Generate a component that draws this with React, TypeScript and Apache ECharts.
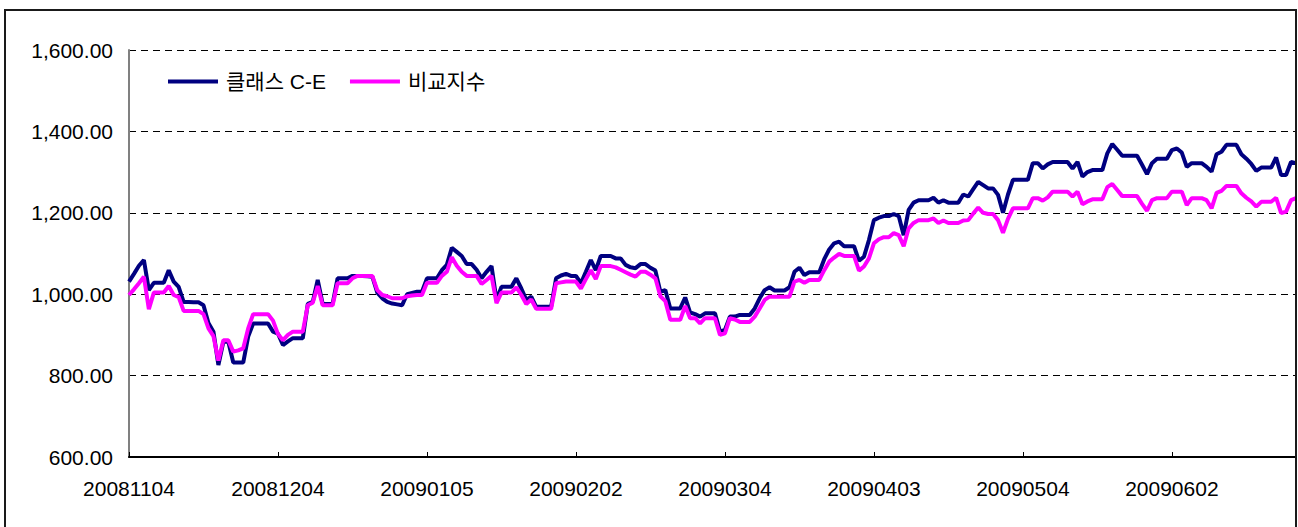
import React, { useEffect, useRef } from "react";
import * as echarts from "echarts";

const tickLabels = [
  "20081104", "20081204", "20090105", "20090202",
  "20090304", "20090403", "20090504", "20090602",
];
const LABEL_STEP = 30;

const classCE = [
  1031, 1050, 1070, 1084, 1010, 1028, 1028, 1028, 1059, 1031,
  1018, 981, 981, 980, 980, 973, 929, 908, 826, 883,
  883, 832, 832, 832, 896, 928, 928, 928, 928, 908,
  903, 875, 884, 892, 892, 892, 976, 981, 1035, 976,
  976, 976, 1039, 1039, 1039, 1045, 1045, 1045, 1044, 1043,
  1004, 990, 981, 977, 975, 973, 1000, 1003, 1006, 1006,
  1039, 1039, 1039, 1059, 1072, 1114, 1104, 1094, 1074, 1074,
  1060, 1039, 1055, 1069, 986, 1018, 1018, 1018, 1039, 1014,
  986, 994, 969, 969, 969, 969, 1039, 1046, 1050, 1045,
  1045, 1027, 1055, 1084, 1059, 1094, 1094, 1094, 1088, 1088,
  1072, 1066, 1064, 1074, 1074, 1065, 1058, 1006, 1010, 965,
  965, 965, 992, 955, 951, 945, 953, 953, 953, 908,
  912, 945, 945, 949, 949, 949, 965, 990, 1010, 1017,
  1009, 1009, 1009, 1017, 1055, 1065, 1047, 1054, 1054, 1054,
  1086, 1110, 1125, 1129, 1118, 1118, 1118, 1082, 1092, 1133,
  1182, 1188, 1192, 1192, 1197, 1192, 1145, 1207, 1225, 1231,
  1231, 1231, 1237, 1225, 1231, 1225, 1225, 1225, 1245, 1240,
  1258, 1276, 1268, 1260, 1260, 1244, 1200, 1245, 1281, 1281,
  1281, 1281, 1322, 1322, 1309, 1319, 1325, 1325, 1325, 1325,
  1309, 1325, 1289, 1300, 1305, 1305, 1305, 1346, 1369, 1355,
  1340, 1340, 1340, 1340, 1318, 1295, 1322, 1333, 1333, 1333,
  1354, 1358, 1348, 1313, 1322, 1322, 1322, 1313, 1301, 1344,
  1350, 1367, 1367, 1367, 1344, 1333, 1320, 1303, 1311, 1311,
  1311, 1336, 1293, 1293, 1325, 1322,
];

const benchmark = [
  998, 1012, 1027, 1043, 963, 1004, 1004, 1004, 1020, 998,
  993, 959, 959, 959, 959, 951, 916, 897, 837, 887,
  887, 859, 862, 867, 916, 951, 951, 951, 951, 935,
  902, 887, 900, 908, 908, 908, 973, 979, 1020, 973,
  973, 973, 1027, 1027, 1027, 1039, 1045, 1045, 1045, 1045,
  1010, 998, 995, 990, 990, 990, 995, 997, 998, 998,
  1028, 1028, 1028, 1045, 1055, 1091, 1070, 1055, 1045, 1045,
  1045, 1025, 1035, 1045, 978, 1004, 1004, 1004, 1017, 998,
  976, 987, 964, 964, 964, 964, 1027, 1029, 1031, 1031,
  1031, 1014, 1037, 1059, 1037, 1069, 1069, 1069, 1066, 1060,
  1054, 1048, 1043, 1055, 1055, 1048, 1039, 995, 983, 937,
  937, 937, 971, 941, 941, 928, 941, 941, 941, 900,
  904, 941, 938, 932, 932, 932, 945, 965, 986, 994,
  994, 994, 994, 994, 1031, 1035, 1028, 1035, 1035, 1035,
  1059, 1080, 1090, 1099, 1094, 1094, 1094, 1058, 1068, 1088,
  1125, 1135, 1140, 1140, 1150, 1145, 1118, 1162, 1175, 1182,
  1182, 1182, 1186, 1175, 1181, 1175, 1175, 1175, 1181, 1182,
  1198, 1213, 1200, 1197, 1197, 1182, 1151, 1185, 1211, 1211,
  1211, 1211, 1236, 1236, 1230, 1238, 1252, 1252, 1252, 1252,
  1240, 1252, 1221, 1228, 1233, 1233, 1233, 1263, 1271, 1256,
  1241, 1241, 1241, 1241, 1222, 1205, 1231, 1236, 1236, 1236,
  1252, 1252, 1252, 1219, 1236, 1236, 1236, 1231, 1211, 1249,
  1254, 1266, 1266, 1266, 1248, 1237, 1228, 1215, 1227, 1227,
  1227, 1237, 1199, 1203, 1231, 1236,
];

const seriesNames = ["클래스 C-E", "비교지수"];
const seriesColors = ["#000080", "#FF00FF"];

const categories = classCE.map((_, i) =>
  i % LABEL_STEP === 0 && tickLabels[i / LABEL_STEP] ? tickLabels[i / LABEL_STEP] : "d" + i
);

const FONT = "'Liberation Sans', Arial, 'Noto Sans CJK KR', sans-serif";

export default function App() {
  const ref = useRef<HTMLDivElement>(null);
  useEffect(() => {
    if (!ref.current) return;
    const chart = echarts.init(ref.current, null, { renderer: "svg" });
    chart.setOption({
      animation: false,
      backgroundColor: "#ffffff",
      textStyle: { fontFamily: FONT },
      graphic: [
        {
          type: "rect",
          shape: { x: 5, y: 10, width: 1291, height: 540 },
          style: { fill: "none", stroke: "#1a1a1a", lineWidth: 2 },
          silent: true,
          z: 100,
        },
      ],
      legend: {
        left: 163,
        top: 66,
        itemWidth: 50,
        itemHeight: 4,
        itemGap: 24,
        icon: "rect",
        textStyle: { fontSize: 21, color: "#000", fontFamily: FONT, padding: [0, 0, 0, 3] },
        data: seriesNames,
      },
      grid: { left: 129, right: 2, top: 50, bottom: 70 },
      xAxis: {
        type: "category",
        data: categories,
        boundaryGap: false,
        axisLine: { show: true, lineStyle: { color: "#000", width: 2 } },
        axisTick: {
          show: true,
          inside: true,
          length: 5,
          interval: LABEL_STEP - 1,
          lineStyle: { color: "#000", width: 1 },
        },
        axisLabel: {
          interval: LABEL_STEP - 1,
          fontSize: 21,
          color: "#000",
          margin: 21,
          fontFamily: FONT,
        },
        splitLine: { show: false },
      },
      yAxis: {
        type: "value",
        min: 600,
        max: 1600,
        interval: 200,
        axisLine: { show: true, lineStyle: { color: "#808080", width: 2 } },
        axisTick: { show: false },
        axisLabel: {
          fontSize: 21,
          color: "#000",
          margin: 16,
          fontFamily: FONT,
          formatter: (v: number) =>
            v.toLocaleString("en-US", { minimumFractionDigits: 2, maximumFractionDigits: 2 }),
        },
        splitLine: { show: true, lineStyle: { color: "#000", width: 1, type: [7, 5] } },
      },
      series: [
        {
          name: seriesNames[0],
          type: "line",
          data: classCE,
          symbol: "none",
          lineStyle: { color: seriesColors[0], width: 4 },
          itemStyle: { color: seriesColors[0] },
        },
        {
          name: seriesNames[1],
          type: "line",
          data: benchmark,
          symbol: "none",
          lineStyle: { color: seriesColors[1], width: 4 },
          itemStyle: { color: seriesColors[1] },
        },
      ],
    });
    return () => chart.dispose();
  }, []);
  return (
    <div
      ref={ref}
      style={{ position: "absolute", left: 0, top: 0, width: 1298, height: 527, background: "#fff" }}
    />
  );
}
